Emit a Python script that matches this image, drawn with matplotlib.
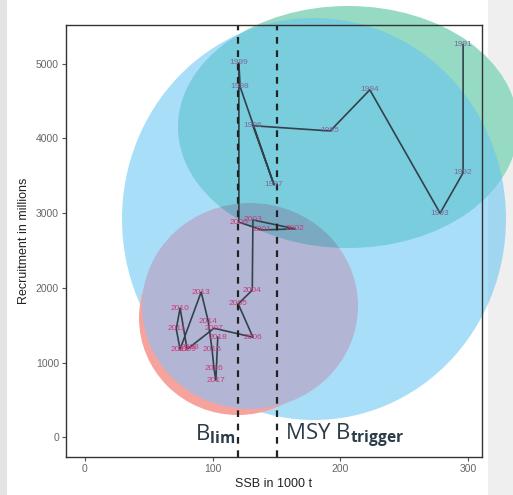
import matplotlib.pyplot as plt
from matplotlib.patches import Ellipse, Rectangle

# stock-recruitment pairs
years = [1991, 1992, 1993, 1994, 1995, 1996, 1997, 1998, 1999,
         2000, 2001, 2002, 2003, 2004, 2005, 2006, 2007, 2008, 2009,
         2010, 2011, 2012, 2013, 2014, 2015, 2016, 2017, 2018]
ssb = [296.0, 296.0, 278.0, 223.0, 192.0, 131.5, 148.0, 121.5, 120.5,
       120.5, 138.5, 164.5, 131.5, 131.0, 120.0, 131.5, 101.0, 82.0, 80.0,
       74.5, 71.5, 74.5, 91.0, 96.5, 99.5, 101.0, 102.5, 104.0]
recruits = [5255, 3540, 3000, 4650, 4100, 4170, 3380, 4690, 5010,
            2880, 2775, 2790, 2910, 1970, 1785, 1340, 1460, 1205, 1180,
            1730, 1450, 1180, 1945, 1555, 1180, 925, 765, 1340]
blim = 120
btrigger = 150
xticks = [0, 100, 200, 300]
yticks = [0, 1000, 2000, 3000, 4000, 5000]

plt.rcParams['font.family'] = ['Liberation Sans', 'DejaVu Sans']
plt.rcParams['mathtext.fontset'] = 'custom'
plt.rcParams['mathtext.rm'] = 'Open Sans'
plt.rcParams['mathtext.bf'] = 'Open Sans:bold'

W, H = 513, 495
fig = plt.figure(figsize=(W / 100, H / 100), dpi=100)

# background layer in pixel coords for slide strips and the overlay blobs
bg = fig.add_axes([0, 0, 1, 1], zorder=0)
bg.set_xlim(0, W)
bg.set_ylim(H, 0)
bg.axis('off')
bg.add_patch(Rectangle((0, 0), 7, H, color='#e4e4e4', lw=0))
bg.add_patch(Rectangle((488, 0), W - 488, H, color='#efefef', lw=0))

bg.add_patch(Ellipse((348, 127), 340, 242, color='#96dac4', lw=0))
bg.add_patch(Ellipse((314, 219), 384, 402, color='#62c3f2', alpha=0.55, lw=0))
bg.add_patch(Ellipse((238, 318), 198, 194, color='#f7a39d', lw=0))
purple = Ellipse((250, 306), 216, 206, color='#b2b6d4', lw=0)
bg.add_patch(purple)
over = Ellipse((348, 127), 340, 242, color='#489eb2', alpha=0.5, lw=0)
bg.add_patch(over)
over.set_clip_path(purple)

ax = fig.add_axes([66 / W, 1 - 457 / H, 416 / W, 432 / H], zorder=1)
ax.set_facecolor('none')
ax.plot(ssb, recruits, color='#33414d', lw=1.2)
for yr, x, y in zip(years, ssb, recruits):
    c = '#7a6a9c' if yr < 2000 else '#c83c78'
    ax.text(x, y, str(yr), fontsize=6, color=c, ha='center', va='center')

ax.axvline(blim, color='#222222', lw=1.6, ls=(0, (3, 3)))
ax.axvline(btrigger, color='#222222', lw=1.6, ls=(0, (3, 3)))

ax.set_xlim(-14.8, 310.8)
ax.set_ylim(-263, 5518)
ax.set_xticks(xticks)
ax.set_yticks(yticks)
ax.tick_params(direction='out', length=3, width=0.8, color='#555555',
               labelcolor='#666666', labelsize=7.5, pad=2)
for s in ax.spines.values():
    s.set_color('#333333')
    s.set_linewidth(1.0)
ax.set_xlabel('SSB in 1000 t', fontsize=9, color='#222222', labelpad=3)
ax.set_ylabel('Recruitment in millions', fontsize=9, color='#222222', labelpad=4)

fig.text(195 / W, 1 - 440 / H, r'B$_{\mathbf{lim}}$', fontsize=16,
         family='Open Sans', color='#2b3b47', va='baseline', zorder=5)
fig.text(285 / W, 1 - 440 / H, r'MSY B$_{\mathbf{trigger}}$', fontsize=16,
         family='Open Sans', color='#2b3b47', va='baseline', zorder=5)

fig.savefig('out.png', dpi=100)
